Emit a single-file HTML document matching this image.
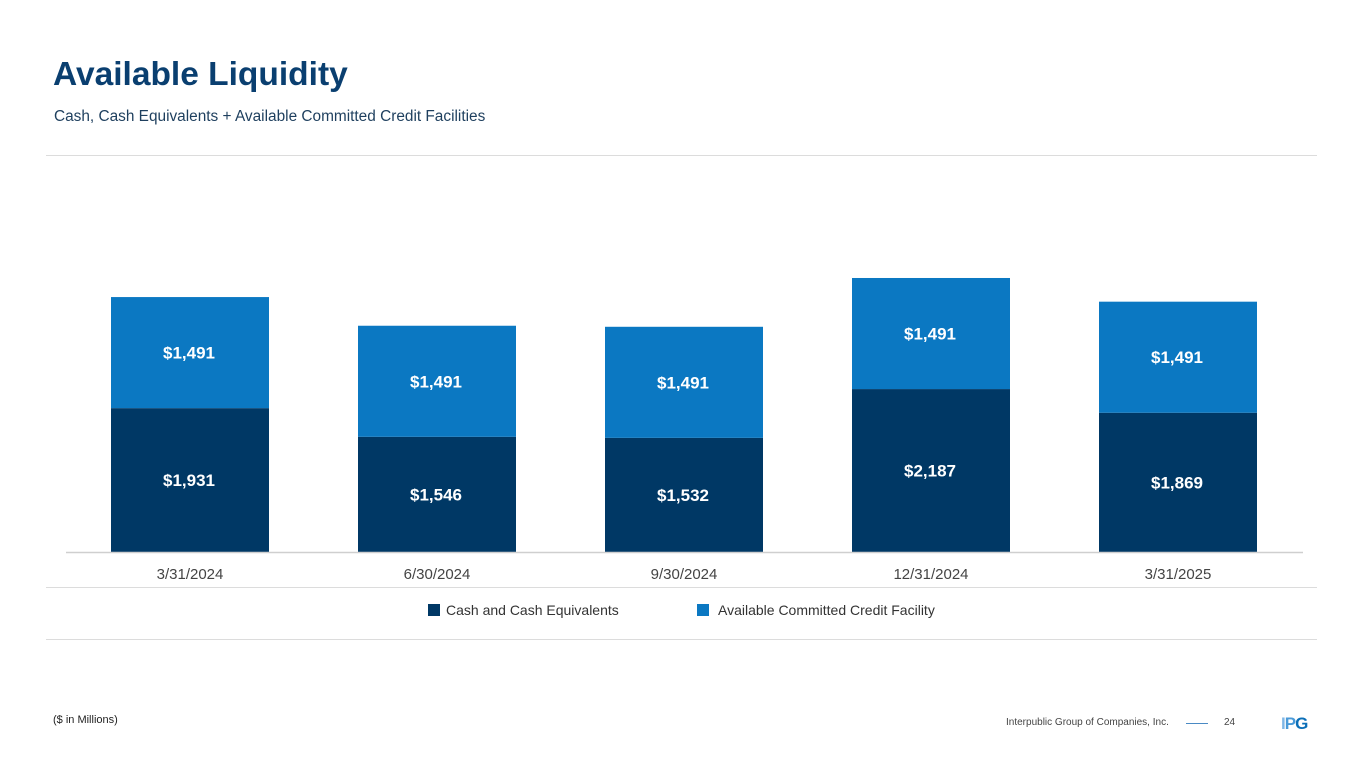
<!DOCTYPE html>
<html><head><meta charset="utf-8"><style>
body{margin:0;width:1365px;height:768px;background:#fff;font-family:"Liberation Sans",sans-serif;position:relative;overflow:hidden}
.abs{position:absolute}
.hr{position:absolute;left:46px;width:1271px;height:1px;background:#dcdcdc}
</style></head><body>
<div class="abs" style="left:53px;top:56px;font-size:33.5px;font-weight:bold;color:#0a3f70">Available Liquidity</div>
<div class="abs" style="left:54px;top:108px;font-size:15.4px;color:#1e3f5e">Cash, Cash Equivalents + Available Committed Credit Facilities</div>
<div class="hr" style="top:155px"></div>
<div class="hr" style="top:587px"></div>
<div class="hr" style="top:639px"></div>
<svg id="chart" class="abs" style="left:0;top:0" width="1365" height="600"></svg>
<div class="abs" style="left:428px;top:602px;font-size:14px;color:#333;display:flex;align-items:center"><span style="width:12px;height:12px;background:#003865;margin-right:6px"></span>Cash and Cash Equivalents</div>
<div class="abs" style="left:697px;top:602px;font-size:14px;color:#333;display:flex;align-items:center"><span style="width:12px;height:12px;background:#0b78c2;margin-right:9px"></span>Available Committed Credit Facility</div>
<div class="abs" style="left:53px;top:714px;font-size:11px;color:#222">($ in Millions)</div>
<div class="abs" style="left:1006px;top:717px;font-size:10px;color:#444">Interpublic Group of Companies, Inc.</div>
<div class="abs" style="left:1186px;top:723px;width:22px;height:1px;background:#4a8ac4"></div>
<div class="abs" style="left:1224px;top:717px;font-size:10px;color:#444">24</div>
<div class="abs" style="left:1281px;top:714px;font-size:17px;font-weight:bold;letter-spacing:-1px"><span style="color:#7fb6e6">I</span><span style="color:#4a9ad8">P</span><span style="color:#0b6fb8">G</span></div>
<script>
const categories=["3/31/2024","6/30/2024","9/30/2024","12/31/2024","3/31/2025"];
const cashValues=[1931,1546,1532,2187,1869];
const creditValues=[1491,1491,1491,1491,1491];
const svg=document.getElementById('chart');const NS='http://www.w3.org/2000/svg';
const base=552,scale=0.0745,x0=111,step=247,bw=158;
const y=v=>base-v*scale;
function mk(t,a){const e=document.createElementNS(NS,t);for(const k in a)e.setAttribute(k,a[k]);svg.appendChild(e);return e;}
const fmt=v=>'$'+v.toLocaleString('en-US');
categories.forEach((c,i)=>{
 const x=x0+i*step,c1=cashValues[i],c2=creditValues[i];
 const r1=mk('rect',{x:x,y:y(c1),width:bw,height:c1*scale,fill:'#003865'});
 
 
 const r2=mk('rect',{x:x,y:y(c1+c2),width:bw,height:c2*scale,fill:'#0b78c2'});
 
 
 const t1=mk('text',{x:x+bw/2-1,y:(y(c1)+base)/2+6,'text-anchor':'middle','font-size':17,'font-weight':'bold',fill:'#fff'});t1.textContent=fmt(c1);
 
 
 const t2=mk('text',{x:x+bw/2-1,y:(y(c1+c2)+y(c1))/2+6,'text-anchor':'middle','font-size':17,'font-weight':'bold',fill:'#fff'});t2.textContent=fmt(c2);
 
 
 const t3=mk('text',{x:x+bw/2,y:579,'text-anchor':'middle','font-size':15,fill:'#444'});t3.textContent=c;
 
 
});
const ax=mk('line',{x1:66,x2:1303,y1:552.5,y2:552.5,stroke:'#cfcfcf','stroke-width':1.5});


</script>
</body></html>
